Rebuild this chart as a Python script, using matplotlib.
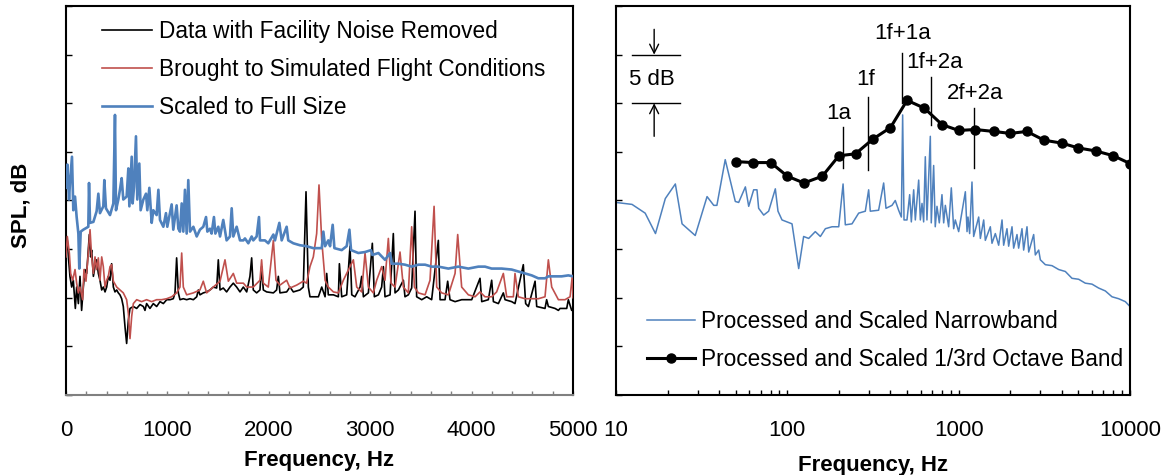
import matplotlib
matplotlib.use("Agg")
import matplotlib.pyplot as plt
from matplotlib.ticker import MultipleLocator, LogLocator, NullFormatter

plt.rcParams['font.family'] = ['Liberation Sans', 'DejaVu Sans']
plt.rcParams['font.size'] = 16

BLUE = '#4F81BD'
RED = '#C0504D'

# ---- left panel: linear narrowband spectra (relative dB) ----
black_f = [0, 13, 26, 39, 56, 72, 92, 105, 122, 138,
           154, 171, 187, 204, 230, 243, 253, 270, 286, 302,
           319, 335, 352, 368, 385, 401, 417, 434, 450, 467,
           483, 500, 516, 532, 549, 565, 582, 598, 615, 631,
           664, 697, 730, 763, 779, 795, 828, 861, 894, 927,
           960, 993, 1026, 1058, 1075, 1091, 1108, 1124, 1157, 1190,
           1223, 1256, 1289, 1305, 1321, 1354, 1387, 1420, 1453, 1486,
           1502, 1519, 1551, 1584, 1617, 1650, 1683, 1716, 1749, 1782,
           1814, 1831, 1847, 1880, 1913, 1929, 1946, 1979, 2045, 2077,
           2094, 2110, 2176, 2209, 2242, 2307, 2340, 2367, 2390, 2406,
           2439, 2489, 2522, 2555, 2571, 2587, 2637, 2686, 2696, 2719,
           2768, 2801, 2818, 2850, 2900, 2916, 2933, 2982, 3021, 3041,
           3081, 3113, 3130, 3146, 3196, 3228, 3245, 3278, 3327, 3343,
           3376, 3409, 3442, 3458, 3508, 3557, 3606, 3672, 3689, 3738,
           3764, 3787, 3837, 3902, 3968, 4001, 4083, 4100, 4165, 4198,
           4215, 4264, 4313, 4330, 4395, 4428, 4510, 4533, 4560, 4626,
           4642, 4724, 4740, 4757, 4823, 4856, 4872, 4938, 4954, 4987,
           5000]
black_db = [14.9, 15.9, 13.9, 12.2, 11.1, 11.8, 8.9, 11.1, 9.4, 12.2,
            8.7, 11.1, 12.9, 12.5, 16.5, 14.2, 14.9, 12.2, 13.2, 13.9,
            12.5, 11.8, 10.8, 11.1, 10.6, 11.1, 12.2, 11.8, 13.5, 11.1,
            10.6, 10.8, 10.5, 10.3, 9.9, 9.1, 7.0, 5.3, 7.7, 8.9,
            9.1, 8.9, 9.3, 9.1, 8.7, 9.4, 8.9, 9.4, 9.1, 9.6,
            9.4, 9.8, 9.8, 9.9, 10.5, 14.1, 10.5, 9.8, 9.9, 9.8,
            9.9, 9.8, 10.1, 10.8, 10.3, 10.5, 10.6, 10.8, 11.1, 11.0,
            13.9, 10.8, 11.0, 10.6, 11.1, 11.5, 11.1, 10.6, 11.1, 10.6,
            12.2, 14.1, 10.8, 10.5, 10.8, 13.2, 10.8, 10.6, 10.5, 10.8,
            12.2, 10.5, 10.6, 11.1, 10.6, 10.8, 11.1, 20.9, 11.1, 10.1,
            10.1, 10.1, 11.1, 10.1, 12.5, 10.3, 10.3, 10.1, 13.5, 10.1,
            10.3, 15.3, 10.3, 10.1, 11.1, 12.2, 10.1, 10.5, 15.6, 10.1,
            10.3, 11.1, 13.2, 10.1, 10.3, 16.6, 10.5, 10.8, 11.8, 10.1,
            10.3, 11.0, 18.9, 10.1, 9.8, 10.1, 9.8, 15.9, 9.8, 9.8,
            11.7, 9.8, 9.6, 9.8, 9.8, 9.8, 12.0, 9.6, 9.8, 11.8,
            9.6, 9.4, 10.5, 9.8, 9.6, 9.4, 13.4, 9.4, 9.1, 11.7,
            9.1, 8.9, 9.8, 9.1, 8.9, 8.7, 8.9, 8.9, 9.8, 8.7,
            8.9]

red_f = [0, 13, 33, 46, 66, 89, 105, 122, 138, 164,
         177, 197, 220, 237, 253, 270, 286, 302, 319, 335,
         352, 368, 385, 401, 417, 434, 450, 467, 500, 532,
         565, 598, 615, 631, 648, 664, 697, 746, 795, 845,
         894, 943, 993, 1042, 1091, 1124, 1141, 1157, 1190, 1256,
         1321, 1354, 1387, 1453, 1519, 1568, 1601, 1650, 1683, 1749,
         1782, 1847, 1913, 1929, 1946, 1995, 2045, 2071, 2110, 2176,
         2209, 2275, 2340, 2373, 2406, 2439, 2472, 2495, 2522, 2555,
         2587, 2637, 2686, 2735, 2768, 2834, 2867, 2916, 2949, 2982,
         3031, 3064, 3113, 3146, 3179, 3205, 3245, 3294, 3327, 3376,
         3409, 3436, 3475, 3541, 3590, 3630, 3656, 3705, 3771, 3837,
         3863, 3902, 3968, 4034, 4083, 4132, 4198, 4247, 4313, 4346,
         4412, 4428, 4461, 4527, 4593, 4658, 4724, 4757, 4790, 4856,
         4921, 4971, 4994, 5000]
red_db = [14.2, 16.3, 14.6, 12.5, 11.8, 12.9, 11.5, 10.5, 11.1, 9.8,
          12.9, 11.7, 14.6, 17.0, 14.2, 12.5, 14.2, 12.9, 14.1, 11.8,
          14.2, 13.2, 11.1, 11.8, 12.2, 13.2, 13.4, 11.7, 11.1, 10.8,
          10.5, 9.8, 8.4, 5.8, 8.1, 9.4, 9.8, 9.6, 9.8, 9.6,
          9.8, 9.8, 9.9, 10.1, 10.5, 11.1, 14.6, 11.1, 10.3, 10.5,
          10.8, 11.7, 10.5, 11.1, 11.7, 13.9, 11.7, 12.5, 11.5, 11.5,
          11.1, 11.1, 11.8, 13.9, 11.5, 11.1, 15.9, 11.8, 11.3, 11.8,
          11.0, 11.3, 11.7, 11.5, 13.2, 14.2, 16.6, 21.6, 15.9, 11.8,
          11.1, 10.6, 10.5, 11.8, 12.5, 13.9, 11.1, 10.6, 14.6, 11.1,
          10.5, 11.8, 13.2, 11.8, 16.1, 11.5, 11.1, 14.7, 11.1, 10.5,
          17.3, 11.1, 10.5, 10.3, 11.8, 19.4, 11.1, 10.5, 10.3, 12.5,
          16.5, 11.1, 10.3, 10.1, 10.6, 10.1, 10.1, 10.6, 12.5, 10.1,
          10.1, 12.5, 10.1, 9.9, 9.9, 9.9, 10.1, 13.9, 11.1, 9.8,
          9.8, 10.1, 12.3, 10.0]

full_f = [0, 13, 30, 39, 59, 72, 89, 105, 122, 131,
          145, 171, 220, 227, 237, 270, 302, 319, 335, 368,
          378, 394, 434, 467, 483, 493, 516, 532, 549, 565,
          598, 615, 625, 648, 657, 671, 690, 703, 723, 736,
          763, 789, 802, 822, 845, 861, 894, 911, 927, 960,
          986, 999, 1042, 1058, 1091, 1108, 1124, 1141, 1157, 1173,
          1190, 1206, 1223, 1256, 1289, 1321, 1354, 1381, 1394, 1420,
          1436, 1459, 1473, 1502, 1519, 1551, 1584, 1617, 1634, 1650,
          1683, 1716, 1749, 1765, 1798, 1831, 1847, 1880, 1903, 1913,
          1962, 1995, 2045, 2061, 2104, 2127, 2176, 2192, 2242, 2307,
          2373, 2439, 2522, 2538, 2555, 2587, 2604, 2630, 2647, 2719,
          2768, 2795, 2811, 2883, 2949, 3008, 3021, 3081, 3146, 3196,
          3212, 3278, 3343, 3409, 3475, 3541, 3606, 3672, 3771, 3869,
          3968, 4067, 4132, 4198, 4297, 4395, 4461, 4527, 4593, 4658,
          4724, 4757, 4823, 4888, 4954, 5000]
full_db = [21.3, 23.7, 20.1, 21.8, 24.5, 19.0, 20.4, 18.3, 16.6, 13.0,
           16.8, 17.0, 17.3, 21.8, 17.7, 17.8, 18.9, 20.7, 18.7, 19.4,
           22.1, 19.2, 18.5, 19.7, 28.8, 19.0, 20.1, 21.1, 22.3, 20.1,
           20.4, 23.3, 19.4, 24.5, 19.7, 21.4, 26.6, 20.1, 23.8, 19.0,
           20.1, 20.7, 19.0, 21.3, 17.7, 19.0, 18.5, 21.1, 18.0, 17.3,
           18.7, 17.3, 19.6, 17.0, 19.5, 17.1, 16.8, 19.7, 16.8, 21.1,
           16.6, 22.1, 16.8, 17.3, 16.3, 17.0, 17.3, 18.3, 16.8, 17.1,
           16.6, 18.3, 16.6, 17.3, 16.3, 18.0, 15.9, 16.3, 19.2, 16.3,
           17.3, 15.9, 15.9, 16.1, 15.6, 16.3, 15.9, 16.3, 18.3, 15.9,
           15.9, 15.6, 16.5, 15.9, 17.7, 15.9, 17.3, 15.9, 15.6, 15.4,
           15.3, 15.1, 15.1, 16.8, 15.3, 15.9, 15.3, 17.5, 15.1, 14.9,
           15.3, 17.0, 14.9, 14.6, 14.7, 14.9, 14.4, 14.6, 13.9, 14.6,
           13.5, 13.5, 13.4, 13.2, 13.4, 13.4, 13.2, 13.2, 13.0, 13.2,
           13.0, 13.2, 13.2, 13.0, 13.0, 12.9, 12.7, 12.5, 12.3, 12.0,
           12.0, 12.2, 12.2, 12.2, 12.3, 12.2]

# ---- right panel: log frequency ----
nb_f = [10, 12.4, 14.8, 17.0, 19.4, 22.2, 24.3, 29.0, 34.0, 37.2,
        38.8, 43.4, 49.7, 52.0, 56.9, 59.5, 63.6, 66.5, 68.0, 72.8,
        77.8, 85.1, 88.2, 93.1, 106.5, 116.5, 124.5, 133.2, 145.6, 155.9,
        166.7, 182.4, 199.5, 211.5, 218, 238.5, 260.8, 285.2, 298.3, 304.9,
        341, 364.9, 376.6, 408.2, 426.6, 446.2, 462.9, 471, 479.8, 499.3,
        517.6, 529.3, 546.3, 558.5, 584.3, 597.5, 611, 624.6, 638.7, 653,
        683.2, 692, 714.5, 730, 747.3, 770.9, 799, 817.5, 836, 874,
        905.8, 935, 955.6, 1000, 1094, 1119, 1133.6, 1158.8, 1196, 1223,
        1308.7, 1338.5, 1399.6, 1430.8, 1530.4, 1565, 1636.8, 1712, 1791, 1830.5,
        1914.3, 1957.8, 2048, 2094, 2190, 2239, 2342, 2395, 2505, 2563,
        2740, 2802, 2931, 2998, 3206, 3505, 3837, 4194, 4585, 5017,
        5483, 6000, 6558, 7178, 7850, 8590, 9390, 10000]
nb_db = [19.8, 19.6, 18.7, 16.6, 20.2, 21.7, 17.6, 16.4, 20.4, 19.5,
         19.5, 24.2, 19.9, 19.8, 21.4, 19.4, 21.1, 21.1, 19.2, 18.5,
         18.9, 21.2, 18.9, 18.0, 17.6, 13.0, 16.3, 16.1, 16.8, 16.3,
         17.1, 17.3, 17.3, 21.7, 17.5, 17.6, 18.7, 18.9, 21.1, 18.9,
         19.0, 21.8, 19.2, 19.5, 20.0, 19.0, 18.3, 28.8, 18.0, 18.0,
         20.6, 17.8, 21.1, 18.0, 22.1, 18.0, 19.7, 17.8, 24.5, 18.0,
         26.6, 17.7, 23.6, 17.3, 19.4, 17.7, 20.6, 17.7, 19.5, 17.3,
         21.3, 17.1, 18.0, 16.8, 20.9, 16.8, 18.3, 16.6, 21.9, 16.3,
         18.3, 16.1, 18.0, 15.9, 17.3, 15.6, 16.6, 15.4, 18.0, 15.4,
         17.1, 15.3, 17.3, 15.1, 16.5, 15.1, 17.1, 14.9, 17.3, 14.7,
         16.5, 14.4, 14.9, 13.9, 13.4, 13.3, 12.9, 12.7, 12.0, 11.9,
         11.5, 11.4, 11.0, 10.7, 10.1, 9.9, 9.6, 9.1]

oct_f = [50, 63, 80, 100, 125, 160, 200, 250, 315, 400, 500, 630,
         800, 1000, 1250, 1600, 2000, 2500, 3150, 4000, 5000, 6300, 8000, 10000]
oct_db = [24.0, 23.9, 23.9, 22.5, 21.8, 22.5, 24.6, 24.8, 26.3, 27.5, 30.3, 29.5,
          27.8, 27.2, 27.3, 27.1, 26.9, 27.1, 26.2, 25.9, 25.4, 25.1, 24.6, 23.8]

# tone labels: name, line freq, line bottom/top (dB), label freq, label dB
tone_names = ['1a', '1f', '1f+1a', '1f+2a', '2f+2a']
tone_f = [210, 295, 470, 690, 1225]
tone_lo = [23.3, 23.1, 30.0, 27.8, 23.3]
tone_hi = [27.6, 30.6, 35.2, 32.7, 29.5]
tone_label_f = [200, 285, 470, 725, 1245]
tone_label_db = [28.9, 32.4, 37.2, 34.2, 31.0]

fig = plt.figure(figsize=(11.66, 4.75), dpi=100)
ax1 = fig.add_axes([66 / 1166, 80 / 475, 507 / 1166, 389 / 475])
ax2 = fig.add_axes([616 / 1166, 80 / 475, 514 / 1166, 389 / 475])

# left panel
l_black, = ax1.plot(black_f, black_db, color='black', lw=1.2, zorder=3)
l_red, = ax1.plot(red_f, red_db, color=RED, lw=1.2, zorder=4)
l_blue, = ax1.plot(full_f, full_db, color=BLUE, lw=1.9, zorder=5)
ax1.legend([l_black, l_red, l_blue],
           ['Data with Facility Noise Removed', 'Brought to Simulated Flight Conditions',
            'Scaled to Full Size'],
           loc='upper left', bbox_to_anchor=(36 / 507, 0.963), frameon=False,
           fontsize=16.3, handlelength=2.2, handletextpad=0.3, labelspacing=0.66,
           borderpad=0, borderaxespad=0)

ax1.set_xlim(0, 5000)
ax1.set_ylim(0, 40)
ax1.xaxis.set_major_locator(MultipleLocator(1000))
ax1.xaxis.set_minor_locator(MultipleLocator(200))
ax1.yaxis.set_major_locator(MultipleLocator(5))
ax1.tick_params(axis='x', which='both', direction='in', length=3, width=1,
                color='#808080', pad=18)
ax1.tick_params(axis='y', direction='in', length=4.3, width=1, labelleft=False)
for s in ax1.spines.values():
    s.set_linewidth(1.5)
ax1.spines['bottom'].set_color('#808080')
ax1.set_xlabel('Frequency, Hz', fontweight='bold')
ax1.xaxis.set_label_coords(0.5, -0.142)
ax1.set_ylabel('SPL, dB', fontweight='bold')
ax1.yaxis.set_label_coords(-0.068, 0.488)

# right panel
l_nb, = ax2.plot(nb_f, nb_db, color=BLUE, lw=1.1, zorder=2)
for name, f, lo, hi, lf, ldb in zip(tone_names, tone_f, tone_lo, tone_hi,
                                    tone_label_f, tone_label_db):
    ax2.plot([f, f], [lo, hi], color='black', lw=1.0, zorder=3)
    ax2.text(lf, ldb, name, ha='center', va='center', fontsize=16)
l_oct, = ax2.plot(oct_f, oct_db, color='black', lw=2.2, marker='o',
                  markersize=6.5, zorder=4)

# 5 dB scale marker
ax2.plot([12.4, 23.7], [35, 35], color='black', lw=1.0)
ax2.plot([12.4, 23.7], [30, 30], color='black', lw=1.0)
ax2.annotate('', xy=(16.7, 35), xytext=(16.7, 37.6),
             arrowprops=dict(arrowstyle='->', lw=1.0, color='black',
                             mutation_scale=16, shrinkA=0, shrinkB=0))
ax2.annotate('', xy=(16.7, 30), xytext=(16.7, 26.6),
             arrowprops=dict(arrowstyle='->', lw=1.0, color='black',
                             mutation_scale=16, shrinkA=0, shrinkB=0))
ax2.text(16.1, 32.4, '5 dB', ha='center', va='center', fontsize=16)

ax2.legend([l_nb, l_oct],
           ['Processed and Scaled Narrowband', 'Processed and Scaled 1/3rd Octave Band'],
           loc='lower left', bbox_to_anchor=(31 / 514, 0.062), frameon=False,
           fontsize=16.3, handlelength=2.1, handletextpad=0.3, labelspacing=0.66,
           borderpad=0, borderaxespad=0)

ax2.set_xscale('log')
ax2.set_xlim(10, 10000)
ax2.set_ylim(0, 40)
ax2.set_xticks([10, 100, 1000, 10000])
ax2.set_xticklabels(['10', '100', '1000', '10000'])
ax2.xaxis.set_minor_locator(LogLocator(base=10, subs=range(2, 10)))
ax2.xaxis.set_minor_formatter(NullFormatter())
ax2.yaxis.set_major_locator(MultipleLocator(5))
ax2.tick_params(axis='x', which='both', direction='in', length=3.6, width=1, pad=18)
ax2.tick_params(axis='y', direction='in', length=4.3, width=1, labelleft=False)
for s in ax2.spines.values():
    s.set_linewidth(1.5)
ax2.set_xlabel('Frequency, Hz', fontweight='bold')
ax2.xaxis.set_label_coords(0.5, -0.155)

fig.savefig('out.png', dpi=100)
